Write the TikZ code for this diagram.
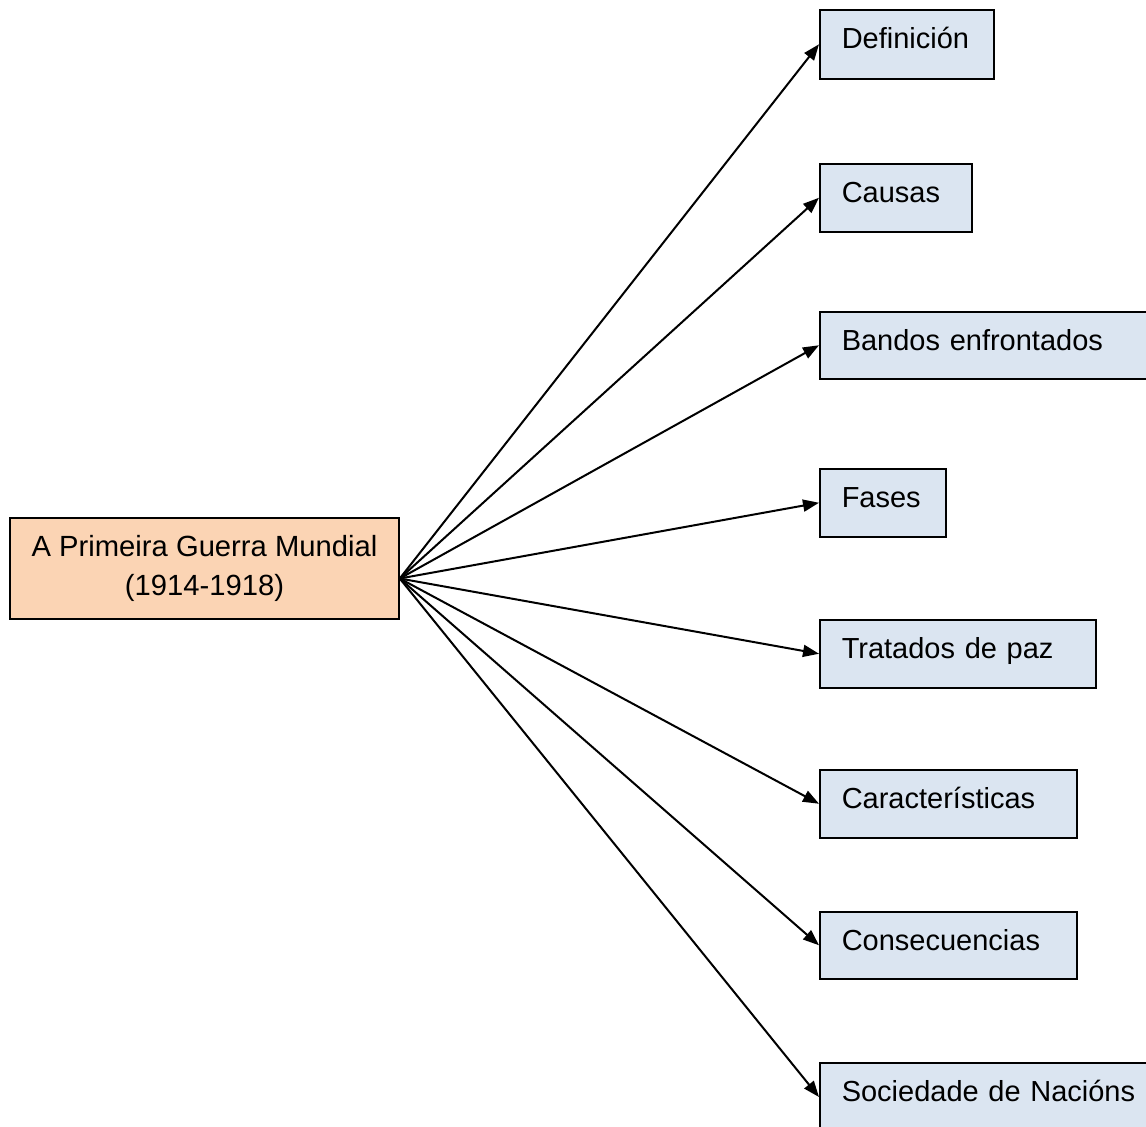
\documentclass[tikz,border=0pt]{standalone}
\usepackage{fontspec}
\setmainfont{Liberation Sans}
\usetikzlibrary{arrows.meta}
\definecolor{peach}{HTML}{FBD4B4}
\definecolor{paleblue}{HTML}{DBE5F1}
\begin{document}
\begin{tikzpicture}[x=1pt,y=-1pt,
  mainbox/.style={draw=black, line width=1.5pt, fill=peach, minimum width=389pt,
    minimum height=101pt, align=center, inner sep=0pt,
    font=\fontsize{29.2}{39}\selectfont},
  topicbox/.style={draw=black, line width=1.5pt, fill=paleblue, anchor=north west,
    inner xsep=22pt, inner ysep=0pt, align=left, text height=38.5pt,
    font=\fontsize{29}{34}\selectfont},
  link/.style={line width=2pt, -{Triangle[length=16pt,width=12pt]}}
]
\useasboundingbox (0,0) rectangle (1146,1127);
\node[mainbox] (main) at (204.5,568.5) {A Primeira Guerra Mundial\\(1914-1918)};
\coordinate (hub) at ([yshift=-10pt]main.east);

\node[topicbox, text width=130pt, text depth=30.5pt] (def) at (819,9) {Definición};
\node[topicbox, text width=108pt, text depth=29.5pt] (cau) at (819,163) {Causas};
\node[topicbox, text width=320pt, text depth=28.5pt] (ban) at (819,311) {Bandos enfrontados};
\node[topicbox, text width=82pt, text depth=29.5pt] (fas) at (819,468) {Fases};
\node[topicbox, text width=232pt, text depth=29.5pt] (tra) at (819,619) {Tratados de paz};
\node[topicbox, text width=213pt, text depth=29.5pt] (car) at (819,769) {Características};
\node[topicbox, text width=213pt, text depth=28.5pt] (con) at (819,911) {Consecuencias};
\node[topicbox, text width=320pt, text depth=30pt] (soc) at (819,1062) {Sociedade de Nacións};

\foreach \t in {def,cau,ban,fas,tra,car,con,soc}
  \draw[link] (hub) -- (\t.west);
\end{tikzpicture}
\end{document}
